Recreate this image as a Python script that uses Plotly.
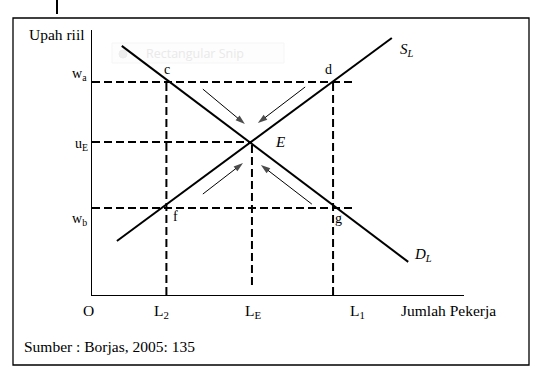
import plotly.graph_objects as go

W, H = 540, 378

# ---- data (model units: x = Jumlah Pekerja, y = Upah riil, both 0..10) ----
demand_x = [0.8, 8.5]
demand_y = [9.4, 1.25]
supply_x = [0.67, 8.06]
supply_y = [2.04, 9.7]

L_vals = {"L2": 2.0, "LE": 4.3, "L1": 6.48}
w_vals = {"wa": 8.04, "uE": 5.77, "wb": 3.28}
h_dash_end = 7.0        # right end of wa / wb dashed lines
le_dash_bottom = 0.38   # LE dashed line stops just above the axis

# arrows: (tail_x, tail_y, head_x, head_y)
arrows = [
    (2.98, 7.77, 4.11, 6.45),
    (5.73, 7.85, 4.46, 6.49),
    (2.98, 3.81, 4.06, 4.98),
    (5.91, 3.43, 4.54, 4.91),
]

FONT = "Liberation Serif"
FS = 15.5


def px(x):
    return x / W


def py(y):
    return 1 - y / H


fig = go.Figure()

dash = "8px,4px"
dline = dict(color="black", width=2, dash=dash)

# dashed guides
fig.add_trace(go.Scatter(x=[0, h_dash_end], y=[w_vals["wa"]] * 2, mode="lines", line=dline))
fig.add_trace(go.Scatter(x=[0, h_dash_end], y=[w_vals["wb"]] * 2, mode="lines", line=dline))
fig.add_trace(go.Scatter(x=[0, L_vals["LE"]], y=[w_vals["uE"]] * 2, mode="lines", line=dline))
fig.add_trace(go.Scatter(x=[L_vals["L2"]] * 2, y=[0, w_vals["wa"]], mode="lines", line=dline))
fig.add_trace(go.Scatter(x=[L_vals["L1"]] * 2, y=[0, w_vals["wa"]], mode="lines", line=dline))
fig.add_trace(go.Scatter(x=[L_vals["LE"]] * 2, y=[le_dash_bottom, w_vals["uE"]], mode="lines", line=dline))

# demand and supply
fig.add_trace(go.Scatter(x=demand_x, y=demand_y, mode="lines", line=dict(color="black", width=2)))
fig.add_trace(go.Scatter(x=supply_x, y=supply_y, mode="lines", line=dict(color="black", width=2)))

# adjustment arrows
for tx, ty, hx, hy in arrows:
    fig.add_trace(go.Scatter(
        x=[tx, hx], y=[ty, hy], mode="lines+markers",
        line=dict(color="black", width=1),
        marker=dict(symbol=["circle", "arrow"], size=[0, 10], color="black",
                    angleref="previous", line=dict(width=0)),
    ))

shapes = []
# outer frame
shapes.append(dict(type="rect", xref="paper", yref="paper", x0=px(13), x1=px(529),
                   y0=py(365), y1=py(18), line=dict(color="black", width=1.3)))
# top tick
shapes.append(dict(type="line", xref="paper", yref="paper", x0=px(57), x1=px(57),
                   y0=py(0), y1=py(14), line=dict(color="black", width=2)))
# faint watermark box
shapes.append(dict(type="rect", xref="paper", yref="paper", x0=px(112), x1=px(284),
                   y0=py(63), y1=py(43), line=dict(color="#f5f5f5", width=1),
                   fillcolor="#fdfdfd", layer="below"))
shapes.append(dict(type="circle", xref="paper", yref="paper", x0=px(119), x1=px(127),
                   y0=py(58), y1=py(50), line=dict(color="#ececec", width=1),
                   fillcolor="#eeeeee", layer="below"))
fig.update_layout(shapes=shapes)


def lab(text, x, y, xanchor="center", size=FS, color="black", family=FONT):
    fig.add_annotation(x=px(x), y=py(y), xref="paper", yref="paper", text=text,
                       showarrow=False, xanchor=xanchor, yanchor="middle",
                       font=dict(family=family, size=size, color=color))


lab("Rectangular Snip", 144, 53, xanchor="left", size=12.5, color="#e9e9e9", family="Open Sans")

lab("Upah riil", 87, 34, xanchor="right")
lab("w<sub>a</sub>", 89, 74, xanchor="right", size=14)
lab("u<sub>E</sub>", 90, 144, xanchor="right", size=14)
lab("w<sub>b</sub>", 89, 219, xanchor="right", size=14)

lab("c", 167, 70, size=14)
lab("d", 328, 69, size=14)
lab("<i>E</i>", 280, 142, size=15)
lab("f", 175, 216, size=14)
lab("g", 338, 218, size=14)
lab("<i>S<sub>L</sub></i>", 407, 50, size=15)
lab("<i>D<sub>L</sub></i>", 423, 255, size=15)

lab("O", 88, 310)
lab("L<sub>2</sub>", 161, 311)
lab("L<sub>E</sub>", 253, 311)
lab("L<sub>1</sub>", 357, 311)
lab("Jumlah Pekerja", 448, 310)
lab("Sumber : Borjas, 2005: 135", 22, 346, xanchor="left")

fig.update_xaxes(domain=[px(92), px(464)], range=[0, 10], showline=True, linecolor="black",
                 linewidth=1.3, showgrid=False, zeroline=False, showticklabels=False, ticks="")
fig.update_yaxes(domain=[py(295), py(30)], range=[0, 10], showline=True, linecolor="black",
                 linewidth=1.3, showgrid=False, zeroline=False, showticklabels=False, ticks="")

fig.update_layout(width=W, height=H, margin=dict(l=0, r=0, t=0, b=0),
                  paper_bgcolor="white", plot_bgcolor="rgba(0,0,0,0)", showlegend=False)

fig.write_html("out.html")
